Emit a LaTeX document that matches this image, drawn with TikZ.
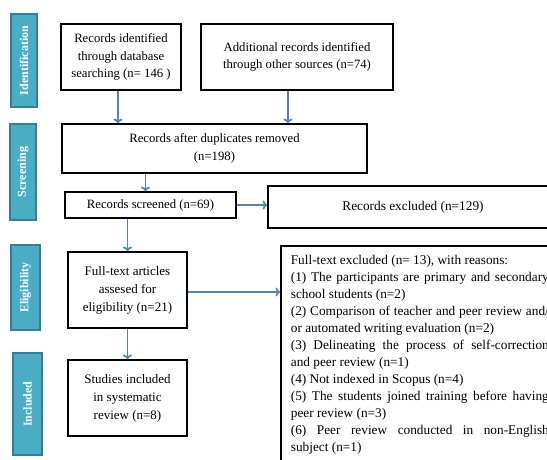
\documentclass[tikz,border=0pt]{standalone}
\usepackage{fontspec}
\setmainfont{Liberation Serif}
\usetikzlibrary{arrows.meta}
\definecolor{labfill}{HTML}{4BACC6}
\definecolor{labdraw}{HTML}{357D91}
\definecolor{arrblue}{HTML}{4F81BD}
\begin{document}
\begin{tikzpicture}[x=1pt,y=-1pt,
  box/.style={draw=black, line width=1.7pt, fill=white, align=center, inner sep=2pt,
    font=\fontsize{12.7}{17.5}\selectfont},
  bigtext/.style={font=\fontsize{13}{18}\selectfont},
  lab/.style={draw=labdraw, line width=1.4pt, fill=labfill, text=white, rotate=90,
    font=\fontsize{12}{12}\selectfont\bfseries, inner sep=0pt},
  arr/.style={draw=arrblue, line width=1.7pt, -{To[length=4.5pt,width=9pt]}}]
\useasboundingbox (0,0) rectangle (547,460);
% stage labels
\node[lab, minimum width=93pt, minimum height=26pt] (l1) at (24,60.5) {Identification};
\node[lab, minimum width=96pt, minimum height=26pt] (l2) at (23,172) {Screening};
\node[lab, minimum width=85pt, minimum height=29pt] (l3) at (25.5,287.5) {Eligibility};
\node[lab, minimum width=102pt, minimum height=29pt] (l4) at (27.5,404) {Included};
% boxes
\node[box, minimum width=120pt, minimum height=66pt] (a) at (121,57)
  {Records identified\\through database\\searching (n= 146 )};
\node[box, minimum width=192pt, minimum height=66pt] (b) at (297,57)
  {Additional records identified\\through other sources (n=74)};
\node[box, minimum width=305pt, minimum height=49pt] (c) at (214.5,148.5)
  {Records after duplicates removed\\(n=198)};
\node[box, minimum width=171pt, minimum height=26pt] (d) at (150.5,205)
  {Records screened (n=69)};
\node[box, font=\fontsize{13.3}{15}\selectfont, minimum width=290pt, minimum height=42pt] (e) at (413,207)
  {Records excluded (n=129)};
\node[box, bigtext, minimum width=119pt, minimum height=76pt] (f) at (127.5,290)
  {Full-text articles\\assesed for\\eligibility (n=21)};
\node[box, bigtext, minimum width=119pt, minimum height=76pt] (h) at (127.5,398)
  {Studies included\\in systematic\\review (n=8)};
\node[box, anchor=north west, align=left, inner xsep=10pt, inner ysep=7pt] (g) at (280,245)
  {\begin{minipage}[t]{258pt}\fontsize{13.3}{17}\selectfont\raggedright
  \strut Full-text excluded (n= 13), with reasons:\\
  \makebox[\linewidth][s]{(1) The participants are primary and secondary}\\
  school students (n=2)\\
  \makebox[\linewidth][s]{(2) Comparison of teacher and peer review and/}\\
  or automated writing evaluation (n=2)\\
  \makebox[\linewidth][s]{(3) Delineating the process of self-correction}\\
  and peer review (n=1)\\
  (4) Not indexed in Scopus (n=4)\\
  \makebox[\linewidth][s]{(5) The students joined training before having}\\
  peer review (n=3)\\
  \makebox[\linewidth][s]{(6) Peer review conducted in non-English}\\
  subject (n=1)\par\vspace*{20pt}
  \end{minipage}};
% connectors
\draw[arr] ([xshift=-3pt]a.south) -- ([xshift=-3pt]a.south |- c.north);
\draw[arr] ([xshift=-9pt]b.south) -- ([xshift=-9pt]b.south |- c.north);
\draw[arr] ([xshift=-5pt]d.north |- c.south) -- ([xshift=-5pt]d.north);
\draw[arr] (d.east) -- (e.west |- d.east);
\draw[arr] (f.north |- d.south) -- (f.north);
\draw[arr] ([yshift=-2pt]f.east) -- ([yshift=-2pt]g.west |- f.east);
\draw[arr] (f.south) -- (h.north);
\end{tikzpicture}
\end{document}
